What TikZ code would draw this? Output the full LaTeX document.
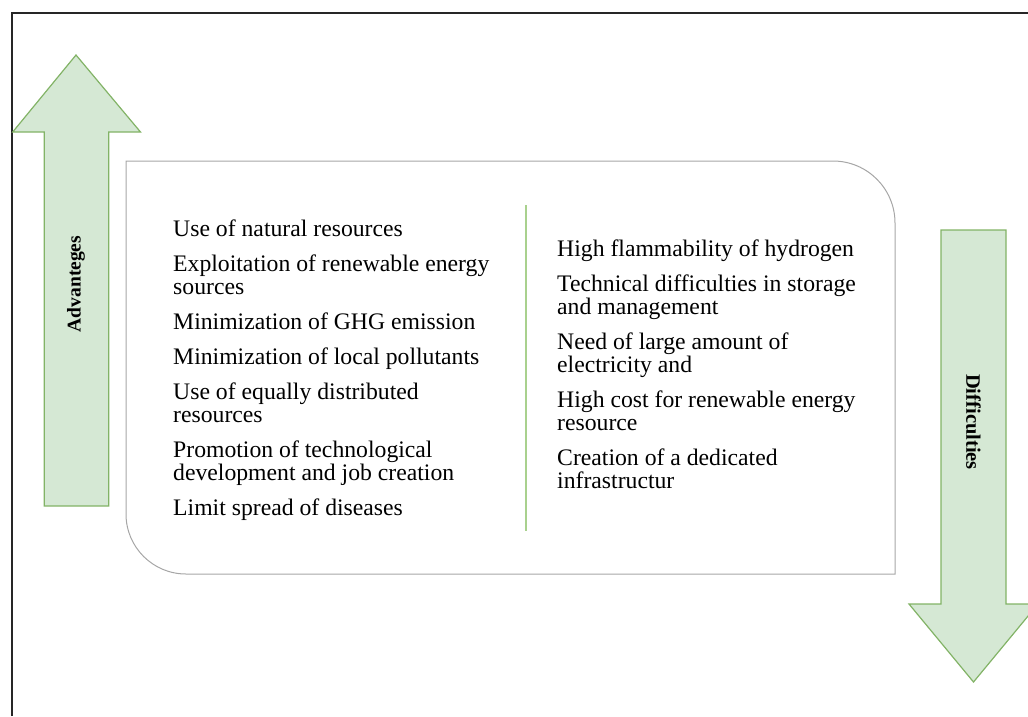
\documentclass[tikz,border=0pt]{standalone}
\usepackage{fontspec}
\setmainfont{Liberation Serif}
\definecolor{arrowfill}{HTML}{D5E8D4}
\definecolor{arrowline}{HTML}{82B366}
\definecolor{boxline}{HTML}{A6A6A6}
\definecolor{divline}{HTML}{A9D18E}
\begin{document}
\begin{tikzpicture}[x=1pt,y=-1pt,
  bigarrow/.style={fill=arrowfill,draw=arrowline,line width=1.2pt,line join=miter},
  item/.style={font=\fontsize{23.7}{23}\selectfont,align=left,inner sep=0pt,anchor=north west},
  lab/.style={font=\fontsize{19.5}{22}\selectfont\bfseries,inner sep=0pt}]
\useasboundingbox (0,0) rectangle (1028,716);
\clip (0,0) rectangle (1028,716);
% frame
\draw[line width=2pt,black!85] (12,716) -- (12,13) -- (1028,13);
% left arrow (up)
\draw[bigarrow] (76,55) -- (140.5,132) -- (108.7,132) -- (108.7,506) -- (44.3,506) -- (44.3,132) -- (12.7,132) -- cycle;
\node[lab,rotate=90] (adv) at (76,284) {Advanteges};
% right arrow (down)
\draw[bigarrow] (941,230) -- (1006,230) -- (1006,604) -- (1038,604) -- (973.5,682) -- (909,604) -- (941,604) -- cycle;
\node[lab,rotate=-90,font=\fontsize{20.5}{22}\selectfont\bfseries] (dif) at (973.5,422) {Difficulties};
% central box
\draw[boxline,line width=1pt] (126,161) -- (600,161) [rounded corners=62pt] -- (895,161) -- (895,420) [sharp corners] -- (895,574) -- (400,574) [rounded corners=60pt] -- (126,574) -- (126,300) [sharp corners] -- cycle;
% divider
\draw[divline,line width=1.5pt] (526,205) -- (526,531);
% texts
\node[item] (advlist) at (173,220) {Use of natural resources\\[12pt]
Exploitation of renewable energy\\ sources\\[12pt]
Minimization of GHG emission\\[12pt]
Minimization of local pollutants\\[12pt]
Use of equally distributed\\ resources\\[12pt]
Promotion of technological\\ development and job creation\\[12pt]
Limit spread of diseases};
\node[item] (diflist) at (557,240) {High flammability of hydrogen\\[12pt]
Technical difficulties in storage\\ and management\\[12pt]
Need of large amount of\\ electricity and\\[12pt]
High cost for renewable energy\\ resource\\[12pt]
Creation of a dedicated\\ infrastructur};
\end{tikzpicture}
\end{document}
